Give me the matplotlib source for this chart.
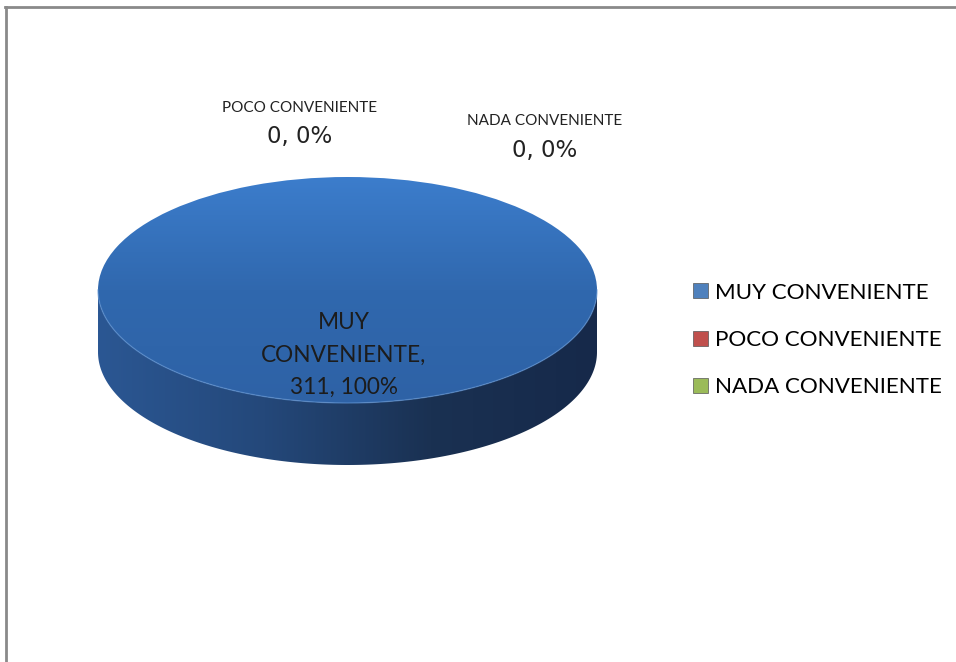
import numpy as np
import matplotlib
matplotlib.use("Agg")
import matplotlib.pyplot as plt
from matplotlib.patches import Patch, Polygon
from matplotlib.lines import Line2D
from matplotlib.colors import LinearSegmentedColormap

# survey answers
categories = ["MUY CONVENIENTE", "POCO CONVENIENTE", "NADA CONVENIENTE"]
counts = [311, 0, 0]
legend_colors = ["#4f81bd", "#c0504d", "#9bbb59"]

W, H = 956, 662
fig = plt.figure(figsize=(W / 100, H / 100), dpi=100)
fig.patch.set_facecolor("white")

# pie centre / radii in pixels, depth of the extruded rim
cx, cy, rx, ry, depth_px = 347.5, 290.0, 249.5, 113.0, 62.0
depth = depth_px / ry

ax = fig.add_axes([0, 0, 1, 1])
wedges, _ = ax.pie(counts, colors=legend_colors, startangle=90,
                   counterclock=False, wedgeprops=dict(linewidth=0))
ax.set_aspect("auto")
ax.axis("off")

top_grad = np.linspace(0, 1, 256)[:, None]
top_cmap = LinearSegmentedColormap.from_list("top", ["#3c7dcc", "#3068ae", "#2e62a6"])
side_cmap = LinearSegmentedColormap.from_list("side", ["#2b5793", "#24487a", "#1a3152", "#16294a"])

for w in wedges:
    if w.theta2 - w.theta1 <= 0:
        continue
    w.set_facecolor("none")
    # rim: visible front part of the wedge between 180 and 360 degrees
    t1 = np.deg2rad(max(w.theta1, 180))
    t2 = np.deg2rad(min(w.theta2, 360))
    if w.theta2 - w.theta1 >= 360:
        t1, t2 = np.pi, 2 * np.pi
    if t2 > t1:
        t = np.linspace(t1, t2, 200)
        top = np.column_stack([np.cos(t), np.sin(t)])
        bot = np.column_stack([np.cos(t[::-1]), np.sin(t[::-1]) - depth])
        rim = Polygon(np.vstack([top, bot]), closed=True, facecolor="none",
                      edgecolor="none")
        ax.add_patch(rim)
        im = ax.imshow(np.linspace(0, 1, 256)[None, :], cmap=side_cmap,
                       extent=(-1, 1, -1 - depth, 0), aspect="auto",
                       interpolation="bilinear", zorder=1)
        im.set_clip_path(rim)
        ax.plot(np.cos(t), np.sin(t), color="#5a8fd0", lw=1.0, alpha=0.6, zorder=3)
    im = ax.imshow(top_grad, cmap=top_cmap, extent=(-1, 1, -1, 1),
                   aspect="auto", interpolation="bilinear", zorder=2)
    im.set_clip_path(w)

ax.set_xlim(-cx / rx, (W - cx) / rx)
ax.set_ylim((cy - H) / ry, cy / ry)

total = sum(counts)
main_font = ["Lato", "DejaVu Sans"]


def px(x, y):
    return x / W, 1 - y / H


# data labels
fig.text(*px(344, 355), "MUY\nCONVENIENTE,\n%d, %d%%" % (counts[0], round(100 * counts[0] / total)),
         ha="center", va="center", fontsize=16.3, family=main_font,
         color="#1c1c1c", linespacing=1.68)
small_pos = [(300, 108), (545, 121)]
for i, (x, y) in zip([1, 2], small_pos):
    fig.text(*px(x, y), categories[i], ha="center", va="center",
             fontsize=11, family=main_font, color="#222222")
    fig.text(*px(x, y + 29), "%d, %d%%" % (counts[i], round(100 * counts[i] / total)),
             ha="center", va="center", fontsize=16.5, family="DejaVu Sans",
             color="#222222")

handles = [Patch(facecolor=c, edgecolor="#555555", linewidth=0.5) for c in legend_colors]
fig.legend(handles, categories, loc="center left", bbox_to_anchor=(693 / W, 1 - 340 / H),
           frameon=False, prop={"family": main_font, "size": 16.1},
           handlelength=0.65, handleheight=0.65, handletextpad=0.35,
           labelspacing=1.22, borderaxespad=0, borderpad=0)

# chart frame
fig.add_artist(Line2D([5 / W, 1], [1 - 7 / H, 1 - 7 / H], color="#8a8a8a", lw=2))
fig.add_artist(Line2D([6 / W, 6 / W], [0, 1 - 7 / H], color="#8a8a8a", lw=2))

fig.savefig("out.png", dpi=100)
